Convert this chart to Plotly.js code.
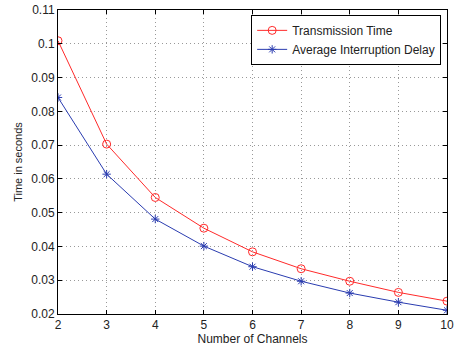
<!DOCTYPE html>
<html><head><meta charset="utf-8">
<script src="https://cdn.plot.ly/plotly-3.0.1.min.js"></script>
<style>html,body{margin:0;padding:0;background:#fff;}#plot{width:461px;height:347px;}</style>
</head><body><div id="plot"></div>
<script>
var channels = [2, 3, 4, 5, 6, 7, 8, 9, 10];
var transmissionTime = [0.1009, 0.0703, 0.0545, 0.0454, 0.0384, 0.0334, 0.0297, 0.0264, 0.0238];
var interruptionDelay = [0.0841, 0.0614, 0.0481, 0.0401, 0.0340, 0.0297, 0.0262, 0.0235, 0.0211];
var xTicks = [2, 3, 4, 5, 6, 7, 8, 9, 10];
var yTicks = [0.02, 0.03, 0.04, 0.05, 0.06, 0.07, 0.08, 0.09, 0.1, 0.11];
var yTickText = ['0.02','0.03','0.04','0.05','0.06','0.07','0.08','0.09','0.1','0.11'];

var traces = [
  {x: channels, y: transmissionTime, name: 'Transmission Time', type: 'scatter', mode: 'lines+markers',
   line: {color: '#ff2a2a', width: 1}, marker: {symbol: 'circle-open', size: 8, color: '#ff2a2a', line: {width: 1}}},
  {x: channels, y: interruptionDelay, name: 'Average Interruption Delay', type: 'scatter', mode: 'lines+markers',
   line: {color: '#2a3cb0', width: 1}, marker: {symbol: 'asterisk-open', size: 7, color: '#2a3cb0', line: {width: 1, color: '#2a3cb0'}}}
];
var axisCommon = {
  showline: true, mirror: 'ticks', linecolor: '#000', linewidth: 1,
  ticks: 'inside', ticklen: 4, tickcolor: '#000',
  showgrid: true, gridcolor: '#999', griddash: '1px,3px', gridwidth: 1,
  zeroline: false, tickfont: {family: 'Liberation Sans, Arial, sans-serif', size: 12, color: '#222'}
};
var layout = {
  width: 461, height: 347,
  margin: {l: 58, r: 14, t: 10, b: 33},
  paper_bgcolor: '#fff', plot_bgcolor: '#fff',
  font: {family: 'Liberation Sans, Arial, sans-serif', size: 12, color: '#222'},
  showlegend: true,
  legend: {x: 0.985, y: 0.984, xanchor: 'right', yanchor: 'top', bgcolor: '#fff',
    bordercolor: '#000', borderwidth: 1, font: {size: 12, color: '#222'}, tracegroupgap: 0,
    itemwidth: 30},
  xaxis: Object.assign({}, axisCommon, {range: [2, 10], tickvals: xTicks,
    title: {text: 'Number of Channels', standoff: 2, font: {size: 12}}}),
  yaxis: Object.assign({}, axisCommon, {range: [0.02, 0.11], tickvals: yTicks, ticktext: yTickText,
    title: {text: 'Time in seconds', standoff: 6, font: {size: 11}}})
};
Plotly.newPlot('plot', traces, layout, {displayModeBar: false, staticPlot: true});
</script></body></html>
